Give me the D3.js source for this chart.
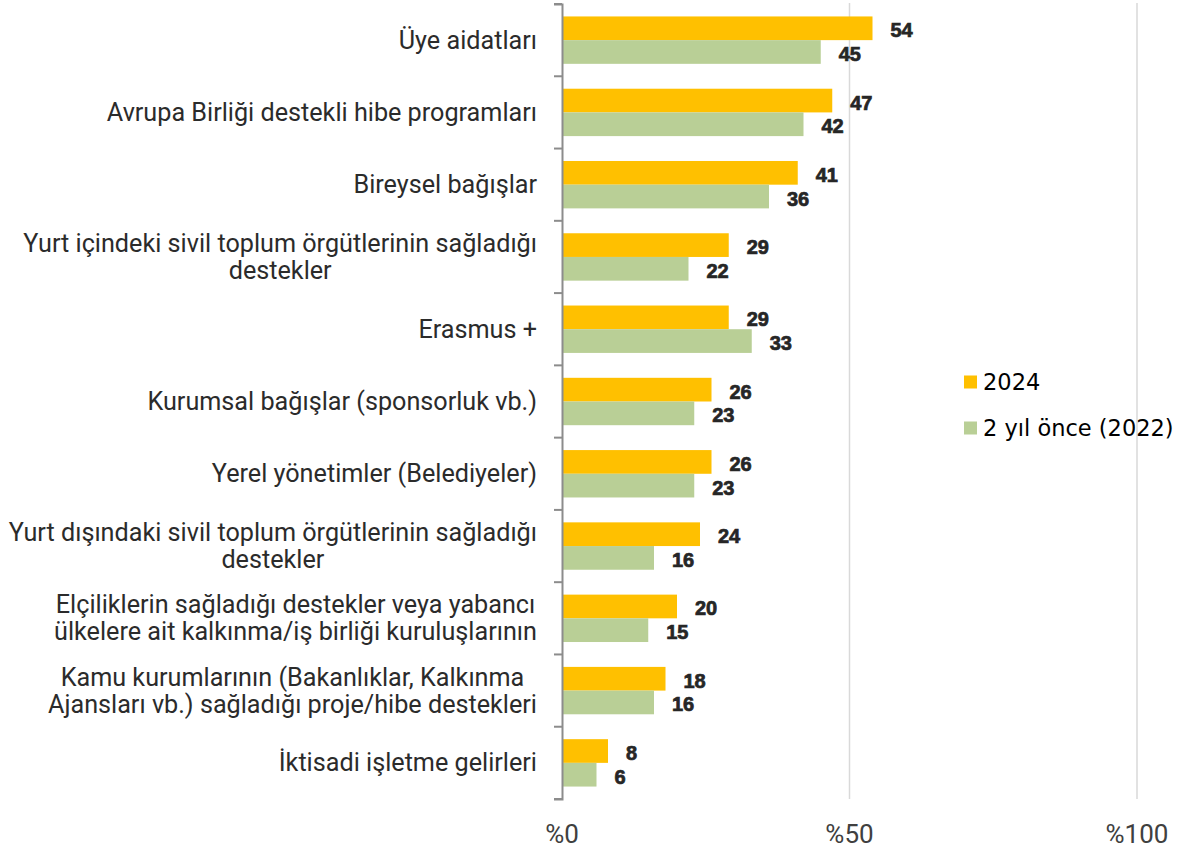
<!DOCTYPE html>
<html><head><meta charset="utf-8">
<script src="https://cdn.jsdelivr.net/npm/d3@7"></script>
<style>body{margin:0;background:#fff;} svg{display:block;}</style>
</head><body>
<svg id="c" width="1186" height="850"></svg>
<script>
const categories = [
  ["Üye aidatları"],
  ["Avrupa Birliği destekli hibe programları"],
  ["Bireysel bağışlar"],
  ["Yurt içindeki sivil toplum örgütlerinin sağladığı", "destekler"],
  ["Erasmus +"],
  ["Kurumsal bağışlar (sponsorluk vb.)"],
  ["Yerel yönetimler (Belediyeler)"],
  ["Yurt dışındaki sivil toplum örgütlerinin sağladığı", "destekler"],
  ["Elçiliklerin sağladığı destekler veya yabancı", "ülkelere ait kalkınma/iş birliği kuruluşlarının"],
  ["Kamu kurumlarının (Bakanlıklar, Kalkınma", "Ajansları vb.) sağladığı proje/hibe destekleri"],
  ["İktisadi işletme gelirleri"]
];
const seriesNames = ["2024", "2 yıl önce (2022)"];
const values2024 = [54, 47, 41, 29, 29, 26, 26, 24, 20, 18, 8];
const values2022 = [45, 42, 36, 22, 33, 23, 23, 16, 15, 16, 6];
const xTicks = [0, 50, 100];
const xTickLabels = ["%0", "%50", "%100"];
const colors = ["#FFC000", "#B9CF96"];

const svg = d3.select("#c");
const x = d3.scaleLinear().domain([0, 100]).range([562, 1137]);
const idx = categories.map((d, i) => i);
const y = d3.scaleBand().domain(idx).range([4, 799]).paddingInner(0).paddingOuter(0);
const inner = d3.scaleBand().domain([0, 1]).range([0, y.bandwidth()]).paddingOuter(0.525).paddingInner(0);

// gridlines
svg.append("g").selectAll("line").data(xTicks.filter(t => t > 0)).join("line")
  .attr("x1", d => x(d)).attr("x2", d => x(d)).attr("y1", 3).attr("y2", 799)
  .attr("stroke", "#d9d9d9").attr("stroke-width", 1.5);

// bars
const series = [values2024, values2022];
series.forEach((vals, s) => {
  svg.append("g").selectAll("rect").data(vals).join("rect")
    .attr("x", x(0)).attr("y", (d, i) => y(i) + inner(s))
    .attr("width", d => x(d) - x(0)).attr("height", inner.bandwidth())
    .attr("fill", colors[s]);
  svg.append("g").selectAll("text").data(vals).join("text")
    .attr("x", d => x(d) + 18).attr("y", (d, i) => y(i) + inner(s) + inner.bandwidth() / 2 + 2)
    .attr("dominant-baseline", "central")
    .attr("font-family", "Liberation Sans, Arial, sans-serif").attr("font-weight", "bold")
    .attr("font-size", 20).attr("fill", "#262626")
    .attr("stroke", "#262626").attr("stroke-width", 0.7)
    .text(d => d);
});

// y axis
const yAxis = d3.axisLeft(y).tickSize(8).tickFormat("");
const ga = svg.append("g").attr("transform", `translate(${x(0)},0)`).call(yAxis);
ga.selectAll(".tick").remove();
ga.select(".domain").attr("stroke", "#8c8c8c").attr("stroke-width", 2);
const bounds = idx.map(i => y(i)).concat([y.range()[1]]);
ga.selectAll("line.b").data(bounds).join("line").attr("class", "b")
  .attr("x1", -8).attr("x2", 0).attr("y1", d => d).attr("y2", d => d)
  .attr("stroke", "#8c8c8c").attr("stroke-width", 2);

// category labels
const labelFont = "Roboto, sans-serif";
const labG = svg.append("g").attr("font-family", labelFont).attr("font-size", 25.2).attr("fill", "#2b2b2b");
const lineH = 27;
categories.forEach((lines, i) => {
  const cy = y(i) + y.bandwidth() / 2;
  const g = labG.append("g");
  const ts = lines.map((ln, k) => g.append("text")
    .attr("y", cy + (k - (lines.length - 1) / 2) * lineH)
    .attr("dominant-baseline", "central").text(ln));
  const widths = ts.map(t => t.node().getComputedTextLength());
  const maxW = d3.max(widths);
  const right = 537;
  ts.forEach((t, k) => t.attr("text-anchor", "middle").attr("x", right - maxW / 2));
});

// x tick labels
svg.append("g").selectAll("text").data(xTicks).join("text")
  .attr("x", d => x(d)).attr("y", 843).attr("text-anchor", "middle")
  .attr("font-family", labelFont).attr("font-size", 26).attr("fill", "#404040")
  .text((d, i) => xTickLabels[i]);

// legend
const lg = svg.append("g");
seriesNames.forEach((n, s) => {
  const cy = 382 + s * 46;
  lg.append("rect").attr("x", 964).attr("y", cy - 6.5).attr("width", 13).attr("height", 13).attr("fill", colors[s]);
  lg.append("text").attr("x", 983).attr("y", cy).attr("dominant-baseline", "central")
    .attr("font-family", "DejaVu Sans, sans-serif").attr("font-size", 22.5).attr("fill", "#000").text(n);
});
</script>
</body></html>
